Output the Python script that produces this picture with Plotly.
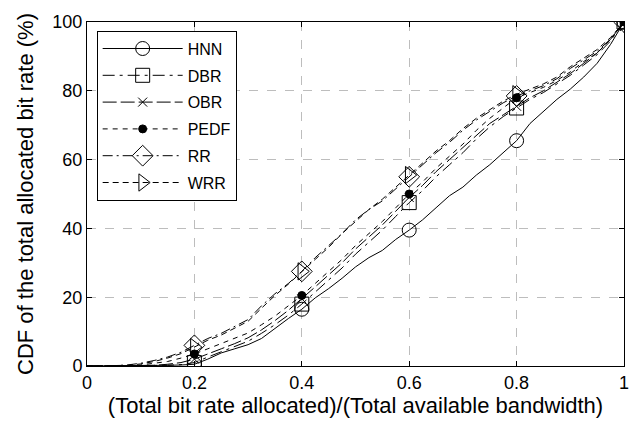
import plotly.graph_objects as go

# Normalised allocated bit rate (x) and CDF values in percent for each scheduler
x_vals = [i * 0.025 for i in range(41)]

hnn = [0, 0, 0, 0, 0, 0.1, 0.2, 0.3, 0.5, 2.0, 3.8, 5.0, 6.2, 8.0, 11.0, 13.8,
       16.5, 19.8, 22.5, 25.5, 28.8, 31.5, 33.6, 36.8, 39.5, 42.5, 46.0, 49.5,
       52.0, 55.5, 58.5, 62.0, 65.5, 70.5, 74.0, 77.5, 80.5, 84.0, 88.0, 93.5, 100]
dbr = [0, 0, 0, 0, 0, 0.1, 0.2, 0.4, 1.0, 2.6, 4.2, 5.6, 7.2, 9.5, 12.0, 14.8,
       18.0, 21.5, 25.0, 28.5, 32.5, 36.0, 39.5, 43.5, 47.5, 51.0, 55.0, 58.5,
       62.0, 66.0, 69.5, 72.5, 75.0, 77.5, 79.5, 82.0, 84.5, 87.5, 90.5, 94.5, 100]
obr = [0, 0, 0, 0, 0.1, 0.2, 0.5, 1.0, 2.0, 3.4, 5.0, 6.5, 8.2, 10.5, 13.2, 16.2,
       19.5, 23.0, 26.5, 30.0, 34.0, 37.5, 41.0, 45.0, 49.0, 52.5, 56.5, 60.0,
       63.5, 67.0, 70.5, 73.0, 75.5, 78.0, 80.0, 82.5, 85.0, 88.0, 91.0, 95.0, 100]
pedf = [0, 0, 0, 0, 0.3, 0.7, 1.3, 2.3, 3.5, 5.0, 6.5, 8.0, 9.6, 12.0, 14.5, 17.5,
        20.5, 24.0, 27.5, 31.0, 35.0, 38.5, 42.0, 46.0, 50.0, 53.5, 57.5, 61.0,
        64.5, 68.5, 72.0, 75.0, 78.0, 79.5, 81.0, 83.0, 85.5, 88.5, 91.0, 95.0, 100]
rr = [0, 0, 0.1, 0.3, 0.8, 1.6, 2.6, 4.0, 6.0, 8.0, 9.5, 11.5, 13.5, 17.5, 21.0, 24.0,
      27.5, 31.5, 35.0, 38.5, 42.5, 45.5, 48.0, 51.5, 55.0, 58.5, 62.0, 65.0,
      68.5, 71.5, 74.0, 76.5, 78.5, 80.0, 81.5, 83.5, 86.5, 89.0, 91.5, 95.0, 100]
wrr = [0, 0, 0.1, 0.2, 0.6, 1.3, 2.3, 3.6, 5.5, 7.5, 9.0, 11.0, 13.0, 16.8, 20.5, 23.8,
       27.5, 31.0, 34.5, 38.5, 42.0, 45.5, 48.5, 52.0, 55.5, 59.0, 62.5, 65.5,
       69.0, 72.0, 74.5, 77.0, 79.0, 80.5, 82.0, 84.0, 87.0, 89.5, 92.0, 95.5, 100]

series_names = ["HNN", "DBR", "OBR", "PEDF", "RR", "WRR"]
series_data = [hnn, dbr, obr, pedf, rr, wrr]
marker_x = [0.2, 0.4, 0.6, 0.8, 1.0]

styles = {
    "HNN": dict(dash="solid", symbol="circle-open", size=14),
    "DBR": dict(dash="12px,5px,3px,5px", symbol="square-open", size=14),
    "OBR": dict(dash="14px,4px", symbol="x-thin-open", size=9),
    "PEDF": dict(dash="5px,5px", symbol="circle", size=8),
    "RR": dict(dash="10px,4px,2px,4px", symbol="diamond-open", size=16),
    "WRR": dict(dash="6px,4px", symbol="triangle-right-open", size=15),
}

fig = go.Figure()
for name, ys in zip(series_names, series_data):
    st = styles[name]
    # the CDF curve
    fig.add_trace(go.Scatter(
        x=x_vals, y=ys, mode="lines", showlegend=False,
        line=dict(color="black", width=1, dash=st["dash"]),
    ))
    # markers only at the labelled grid positions
    idx = [min(range(len(x_vals)), key=lambda i: abs(x_vals[i] - mx)) for mx in marker_x]
    fig.add_trace(go.Scatter(
        x=[x_vals[i] for i in idx], y=[ys[i] for i in idx], mode="markers",
        showlegend=False,
        marker=dict(symbol=st["symbol"], size=st["size"], color="black",
                    line=dict(color="black", width=1)),
    ))
    # legend entry
    fig.add_trace(go.Scatter(
        x=[None], y=[None], mode="lines+markers", name=name, legendgroup=name,
        line=dict(color="black", width=1, dash=st["dash"]),
        marker=dict(symbol=st["symbol"], size=st["size"], color="black",
                    line=dict(color="black", width=1)),
    ))

FONT = "Liberation Sans, Arial, sans-serif"

fig.update_layout(
    width=641, height=424,
    margin=dict(l=87, r=14, t=14, b=57),
    paper_bgcolor="white", plot_bgcolor="white",
    font=dict(family=FONT, size=18, color="black"),
    showlegend=True,
    legend=dict(
        x=0.018, y=0.975, xanchor="left", yanchor="top",
        bgcolor="white", bordercolor="black", borderwidth=1,
        font=dict(family=FONT, size=16),
        tracegroupgap=3, itemwidth=80, itemsizing="trace",
    ),
    xaxis=dict(
        range=[0, 1], tickvals=[0, 0.2, 0.4, 0.6, 0.8, 1.0],
        ticktext=["0", "0.2", "0.4", "0.6", "0.8", "1"],
        tickfont=dict(size=18),
        showgrid=True, gridcolor="#bdbdbd", griddash="dash", gridwidth=1,
        zeroline=False, showline=True, linecolor="black", linewidth=1,
        mirror="ticks", ticks="inside", ticklen=5, tickcolor="black",
        title=dict(text="(Total bit rate allocated)/(Total available bandwidth)",
                   font=dict(size=22), standoff=4),
    ),
    yaxis=dict(
        range=[0, 100], tickvals=[0, 20, 40, 60, 80, 100],
        tickfont=dict(size=18),
        showgrid=True, gridcolor="#bdbdbd", griddash="dash", gridwidth=1,
        zeroline=False, showline=True, linecolor="black", linewidth=1,
        mirror="ticks", ticks="inside", ticklen=5, tickcolor="black",
        title=dict(text="CDF of the total allocated bit rate (%)",
                   font=dict(size=22), standoff=12),
    ),
)

fig.write_html("out.html")
